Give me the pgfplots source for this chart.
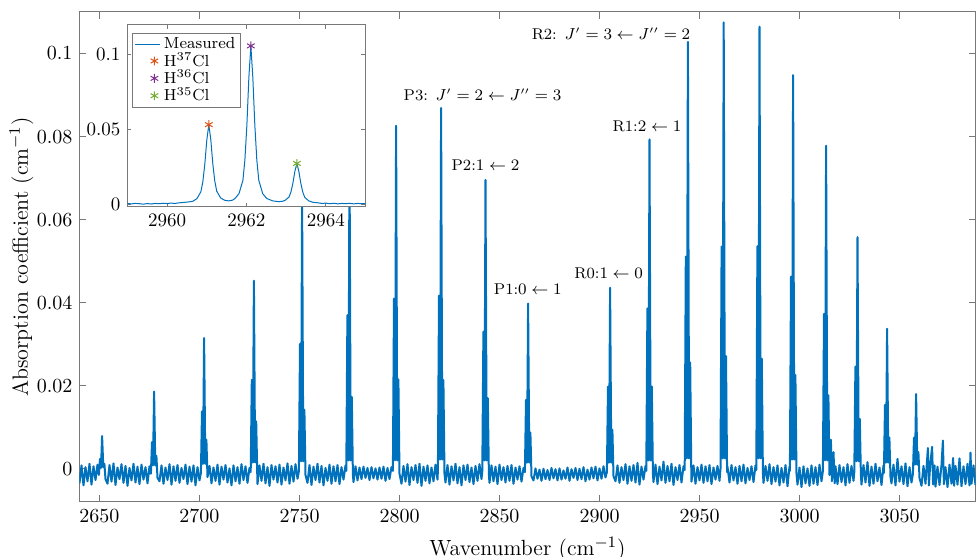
\documentclass[border=0pt]{standalone}
\usepackage{pgfplots}
\pgfplotsset{compat=1.18}
\usepackage{pgfplotstable}
\definecolor{mblue}{RGB}{0,114,189}
\definecolor{morange}{RGB}{217,83,25}
\definecolor{mpurple}{RGB}{126,47,142}
\definecolor{mgreen}{RGB}{119,172,48}
\definecolor{axgray}{RGB}{120,120,120}

\pgfplotstableread{
x y
2640 -0.0035
2641 0.0008
2642 -0.0040
2643 0.0004
2644 -0.0030
2645 0.0012
2646 -0.0038
2647 0.0006
2648 -0.0027
2649 0.0010
2649.7 -0.0015
2650.25 0.0024
2650.75 0.0002
2651.3 0.0079
2651.9 0.0004
2652.45 0.0012
2653.0 -0.0025
2654 -0.0036
2655 0.0009
2656 -0.0031
2657 0.0013
2658 -0.0039
2659 0.0003
2660 -0.0025
2661 0.0011
2662 -0.0034
2663 0.0007
2664 -0.0041
2665 0.0002
2666 -0.0028
2667 0.0012
2668 -0.0033
2669 0.0005
2670 -0.0037
2671 0.0010
2672 -0.0026
2673 0.0004
2674 -0.0035
2675 0.0006
2675.7 -0.0012
2676.25 0.0064
2676.75 0.0008
2677.3 0.0186
2677.9 0.0008
2678.45 0.0031
2679.0 -0.0022
2680 -0.0030
2681 0.0008
2682 -0.0036
2683 0.0003
2684 -0.0027
2685 0.0011
2686 -0.0038
2687 0.0006
2688 -0.0029
2689 0.0009
2690 -0.0034
2691 0.0002
2692 -0.0025
2693 0.0010
2694 -0.0037
2695 0.0005
2696 -0.0031
2697 0.0008
2698 -0.0040
2699 0.0004
2700 -0.0028
2700.7 -0.0010
2701.25 0.0138
2701.75 0.0012
2702.3 0.0315
2702.9 0.0012
2703.45 0.0070
2704.0 -0.0020
2705 0.0007
2706 -0.0035
2707 0.0003
2708 -0.0029
2709 0.0010
2710 -0.0038
2711 0.0005
2712 -0.0026
2713 0.0009
2714 -0.0033
2715 0.0001
2716 -0.0040
2717 0.0008
2718 -0.0030
2719 0.0004
2720 -0.0036
2721 0.0011
2722 -0.0027
2723 0.0006
2724 -0.0034
2725 0.0002
2725.6 -0.0008
2726.15 0.0214
2726.65 0.0015
2727.2 0.0453
2727.8 0.0015
2728.35 0.0114
2728.9 -0.0018
2729 -0.0037
2730 0.0008
2731 -0.0029
2732 0.0012
2733 -0.0035
2734 0.0004
2735 -0.0041
2736 0.0009
2737 -0.0026
2738 0.0006
2739 -0.0033
2740 0.0010
2741 -0.0038
2742 0.0003
2743 -0.0028
2744 0.0013
2745 -0.0036
2746 0.0007
2747 -0.0031
2748 0.0011
2749 -0.0024
2749.7 -0.0006
2750.25 0.0301
2750.75 0.0018
2751.3 0.0650
2751.9 0.0018
2752.45 0.0142
2753.0 -0.0015
2754 -0.0034
2755 0.0009
2756 -0.0039
2757 0.0005
2758 -0.0027
2759 0.0012
2760 -0.0033
2761 0.0007
2762 -0.0040
2763 0.0002
2764 -0.0029
2765 0.0010
2766 -0.0036
2767 0.0006
2768 -0.0030
2769 0.0009
2770 -0.0037
2771 0.0004
2772 -0.0026
2773 0.0008
2773.4 -0.0005
2773.95 0.0370
2774.45 0.0020
2775.0 0.0770
2775.6 0.0020
2776.15 0.0173
2776.7 -0.0015
2777 -0.0032
2778 0.0006
2779 -0.0028
2780 0.0003
2781 -0.0025
2782 0.0005
2783 -0.0022
2784 0.0002
2785 -0.0027
2786 0.0004
2787 -0.0023
2788 0.0001
2789 -0.0026
2790 0.0003
2791 -0.0024
2792 0.0005
2793 -0.0029
2794 0.0002
2795 -0.0025
2796 0.0004
2796.7 -0.0005
2797.25 0.0410
2797.75 0.0020
2798.3 0.0826
2798.9 0.0020
2799.45 0.0215
2800.0 -0.0012
2801 -0.0036
2802 0.0007
2803 -0.0031
2804 0.0011
2805 -0.0039
2806 0.0004
2807 -0.0027
2808 0.0009
2809 -0.0034
2810 0.0012
2811 -0.0041
2812 0.0005
2813 -0.0029
2814 0.0008
2815 -0.0035
2816 0.0003
2817 -0.0030
2818 0.0010
2819 -0.0026
2819.2 -0.0005
2819.75 0.0417
2820.25 0.0022
2820.8 0.0869
2821.4 0.0022
2821.95 0.0214
2822.5 -0.0012
2823 -0.0033
2824 0.0009
2825 -0.0038
2826 0.0006
2827 -0.0028
2828 0.0012
2829 -0.0035
2830 0.0004
2831 -0.0040
2832 0.0008
2833 -0.0027
2834 0.0010
2835 -0.0032
2836 0.0003
2837 -0.0037
2838 0.0007
2839 -0.0029
2840 0.0011
2841 -0.0025
2841.4 -0.0005
2841.95 0.0330
2842.45 0.0020
2843.0 0.0696
2843.6 0.0020
2844.15 0.0170
2844.7 -0.0015
2845 -0.0034
2846 0.0008
2847 -0.0030
2848 0.0005
2849 -0.0037
2850 0.0010
2851 -0.0027
2852 0.0004
2853 -0.0033
2854 0.0007
2855 -0.0029
2856 0.0009
2857 -0.0036
2858 0.0003
2859 -0.0026
2860 0.0006
2861 -0.0031
2862 0.0002
2862.7 -0.0008
2863.25 0.0166
2863.75 0.0015
2864.3 0.0398
2864.9 0.0015
2865.45 0.0087
2866.0 -0.0018
2867 -0.0028
2868 0.0001
2869 -0.0024
2870 -0.0002
2871 -0.0029
2872 0.0000
2873 -0.0025
2874 -0.0003
2875 -0.0027
2876 0.0002
2877 -0.0023
2878 -0.0001
2879 -0.0028
2880 0.0001
2881 -0.0026
2882 -0.0004
2883 -0.0024
2884 0.0003
2885 -0.0029
2886 -0.0001
2887 -0.0022
2888 0.0002
2889 -0.0027
2890 0.0000
2891 -0.0025
2892 0.0004
2893 -0.0030
2894 -0.0002
2895 -0.0026
2896 0.0003
2897 -0.0023
2898 0.0005
2899 -0.0028
2900 0.0001
2901 -0.0024
2902 0.0006
2903 -0.0021
2903.7 -0.0008
2904.25 0.0198
2904.75 0.0015
2905.3 0.0436
2905.9 0.0015
2906.45 0.0094
2907.0 -0.0018
2908 -0.0030
2909 0.0008
2910 -0.0034
2911 0.0004
2912 -0.0027
2913 0.0011
2914 -0.0036
2915 0.0006
2916 -0.0029
2917 0.0009
2918 -0.0033
2919 0.0014
2920 -0.0038
2921 0.0005
2922 -0.0026
2923 0.0007
2923.4 -0.0005
2923.95 0.0386
2924.45 0.0020
2925.0 0.0793
2925.6 0.0020
2926.15 0.0198
2926.7 -0.0012
2927 -0.0032
2928 0.0010
2929 -0.0037
2930 0.0005
2931 -0.0028
2932 0.0017
2933 -0.0034
2934 0.0007
2935 -0.0030
2936 0.0012
2937 -0.0039
2938 0.0004
2939 -0.0027
2940 0.0009
2941 -0.0033
2942 0.0006
2942.6 -0.0003
2943.15 0.0511
2943.65 0.0025
2944.2 0.1028
2944.8 0.0025
2945.35 0.0256
2945.9 -0.0010
2946 -0.0031
2947 0.0008
2948 -0.0036
2949 0.0004
2950 -0.0028
2951 0.0010
2952 -0.0034
2953 0.0006
2954 -0.0030
2955 0.0009
2956 -0.0037
2957 0.0003
2958 -0.0026
2959 0.0007
2960 -0.0029
2960.5 0.0000
2961.05 0.0535
2961.55 0.0025
2962.1 0.1075
2962.7 0.0025
2963.25 0.0271
2963.8 -0.0008
2964 0.0005
2965 -0.0033
2966 0.0009
2967 -0.0028
2968 0.0004
2969 -0.0036
2970 0.0007
2971 -0.0030
2972 0.0010
2973 -0.0035
2974 0.0002
2975 -0.0027
2976 0.0006
2977 -0.0032
2978 0.0008
2978.4 -0.0003
2978.95 0.0536
2979.45 0.0025
2980.0 0.1065
2980.6 0.0025
2981.15 0.0265
2981.7 -0.0010
2982 -0.0034
2983 0.0007
2984 -0.0029
2985 0.0011
2986 -0.0037
2987 0.0004
2988 -0.0031
2989 0.0008
2990 -0.0040
2991 0.0002
2992 -0.0033
2993 0.0009
2994 -0.0042
2995 0.0005
2995.2 -0.0005
2995.75 0.0463
2996.25 0.0022
2996.8 0.0948
2997.4 0.0022
2997.95 0.0226
2998.5 -0.0012
2999 -0.0038
3000 0.0003
3001 -0.0044
3002 0.0006
3003 -0.0035
3004 0.0001
3005 -0.0041
3006 0.0008
3007 -0.0036
3008 0.0004
3009 -0.0039
3010 0.0010
3011 -0.0030
3011.7 -0.0005
3012.25 0.0373
3012.75 0.0020
3013.3 0.0778
3013.9 0.0020
3014.45 0.0177
3015.0 -0.0015
3015.7 0.0070
3016.2 -0.0030
3017.0 0.0040
3017.6 -0.0035
3018 0.0006
3019 -0.0037
3020 0.0009
3021 -0.0032
3022 0.0004
3023 -0.0040
3024 0.0011
3025 -0.0034
3026 0.0007
3027 -0.0029
3027.4 -0.0008
3027.95 0.0246
3028.45 0.0018
3029.0 0.0558
3029.6 0.0018
3030.15 0.0120
3030.7 -0.0015
3031 -0.0038
3032 0.0009
3033 -0.0033
3034 0.0016
3035 -0.0041
3036 0.0005
3037 -0.0036
3038 0.0012
3039 -0.0030
3040 0.0003
3041 -0.0039
3042 0.0008
3042.2 -0.0010
3042.75 0.0154
3043.25 0.0015
3043.8 0.0337
3044.4 0.0015
3044.95 0.0075
3045.5 -0.0020
3046 -0.0035
3047 0.0010
3048 -0.0040
3049 0.0024
3050 -0.0031
3051 0.0006
3052 -0.0037
3053 0.0013
3054 -0.0042
3055 0.0004
3056 -0.0033
3056.7 -0.0012
3057.25 0.0075
3057.75 0.0010
3058.3 0.0180
3058.9 0.0010
3059.45 0.0040
3060.0 -0.0022
3061 -0.0041
3062 0.0007
3063 -0.0036
3064.2 0.0050
3064.7 -0.0040
3065.3 0.0006
3066.3 0.0053
3066.8 -0.0038
3067.5 0.0008
3068 -0.0043
3069 0.0005
3070 -0.0039
3071 0.0009
3071.7 0.0068
3072.2 -0.0037
3073 0.0004
3074 -0.0044
3075 0.0010
3076 -0.0036
3076.8 0.0026
3077.3 -0.0041
3078 0.0007
3079 -0.0038
3080 0.0025
3081 -0.0042
3082 0.0006
3083 -0.0037
3084 0.0012
3085 -0.0040
3085.5 0.0039
3086 -0.0036
3087 0.0008
3088 -0.0039
}\maindata

\pgfplotstableread{
x y
2959.0 0.0003
2959.1 0.0001
2959.2 0.0004
2959.3 0.0002
2959.4 -0.0001
2959.5 0.0003
2959.6 0.0000
2959.7 0.0004
2959.8 0.0002
2959.9 0.0005
2960.0 0.0003
2960.1 0.0006
2960.2 0.0004
2960.3 0.0008
2960.4 0.0010
2960.5 0.0013
2960.6 0.0016
2960.65 0.0019
2960.75 0.0036
2960.85 0.0082
2960.9 0.0150
2960.95 0.0270
2961.0 0.0430
2961.05 0.0532
2961.1 0.0432
2961.15 0.0272
2961.2 0.0155
2961.25 0.0086
2961.35 0.0040
2961.45 0.0025
2961.55 0.0021
2961.65 0.0026
2961.71 0.0037
2961.81 0.0069
2961.91 0.0159
2961.96 0.0297
2962.01 0.0530
2962.06 0.0848
2962.11 0.1060
2962.16 0.0848
2962.21 0.0530
2962.26 0.0297
2962.31 0.0159
2962.41 0.0069
2962.51 0.0037
2962.66 0.0021
2962.8 0.0016
2962.9 0.0018
2962.97 0.0024
2963.07 0.0046
2963.12 0.0080
2963.17 0.0139
2963.22 0.0219
2963.27 0.0272
2963.32 0.0219
2963.37 0.0138
2963.42 0.0079
2963.47 0.0044
2963.57 0.0021
2963.67 0.0012
2963.8 0.0008
2963.9 0.0004
2964.0 0.0006
2964.1 0.0002
2964.2 0.0005
2964.3 0.0001
2964.4 0.0004
2964.5 0.0002
2964.6 0.0005
2964.7 0.0001
2964.8 0.0004
2964.9 0.0002
2965.0 0.0003
}\insetdata

\begin{document}
\begin{tikzpicture}
\begin{axis}[
  at={(0,0)}, anchor=south west,
  scale only axis, width=448pt, height=245pt,
  xmin=2640, xmax=3088, ymin=-0.008, ymax=0.11,
  xtick={2650,2700,2750,2800,2850,2900,2950,3000,3050},
  xticklabels={2650,2700,2750,2800,2850,2900,2950,3000,3050},
  ytick={0,0.02,0.04,0.06,0.08,0.1},
  yticklabels={0,0.02,0.04,0.06,0.08,0.1},
  tick label style={font=\fontsize{10}{12}\selectfont, black},
  label style={font=\fontsize{11}{13}\selectfont, black},
  xlabel={Wavenumber (cm$^{-1}$)},
  ylabel={Absorption coefficient (cm$^{-1}$)},
  y label style={at={(axis description cs:-0.0647,0.5)}, anchor=center, rotate=0},
  axis line style={axgray, line width=0.5pt},
  tick style={axgray, line width=0.5pt},
  major tick length=3.5pt,
  tick align=inside,
]
\addplot[mblue, line width=1pt, line join=round] table {\maindata};
\node[font=\fontsize{7.8}{10}\selectfont] at (axis cs:2905.75,0.1048) {R2:\enspace$J'=3\leftarrow J''=2$};
\node[font=\fontsize{7.8}{10}\selectfont] at (axis cs:2841.5,0.0901) {P3:\enspace$J'=2\leftarrow J''=3$};
\node[font=\fontsize{7.8}{10}\selectfont] at (axis cs:2923.75,0.0825) {R1:$2\leftarrow 1$};
\node[font=\fontsize{7.8}{10}\selectfont] at (axis cs:2843,0.0731) {P2:$1\leftarrow 2$};
\node[font=\fontsize{7.8}{10}\selectfont] at (axis cs:2904.6,0.0470) {R0:$1\leftarrow 0$};
\node[font=\fontsize{7.8}{10}\selectfont] at (axis cs:2864.15,0.0433) {P1:$0\leftarrow 1$};
\end{axis}

\begin{axis}[
  at={(24pt,147.5pt)}, anchor=south west,
  scale only axis, width=119pt, height=91pt,
  xmin=2959, xmax=2965, ymin=-0.002, ymax=0.12,
  xtick={2960,2962,2964}, xticklabels={2960,2962,2964},
  ytick={0,0.05,0.1}, yticklabels={0,0.05,0.1},
  axis background/.style={fill=white},
  tick label style={font=\fontsize{9.5}{11}\selectfont, black},
  axis line style={axgray, line width=0.5pt},
  tick style={axgray, line width=0.5pt},
  major tick length=2pt,
  tick align=inside,
  legend style={at={(0.02,0.955)}, anchor=north west,
    font=\fontsize{8}{9}\selectfont, draw=axgray, line width=0.5pt,
    inner xsep=1pt, inner ysep=0.5pt, row sep=-2.5pt,
    nodes={inner sep=1.5pt}},
  legend cell align=left,
]
\addplot[mblue, line width=0.5pt, line join=round,
  legend image code/.code={\draw[mblue, line width=0.6pt] (-1pt,0pt) -- (11.5pt,0pt);}]
  table {\insetdata};
\addlegendentry{Measured}
\addplot[only marks, mark=asterisk, mark size=2.2pt, morange, line width=0.5pt]
  coordinates {(2961.05,0.0532)};
\addlegendentry{H$^{37}$Cl}
\addplot[only marks, mark=asterisk, mark size=2.2pt, mpurple, line width=0.5pt]
  coordinates {(2962.11,0.1060)};
\addlegendentry{H$^{36}$Cl}
\addplot[only marks, mark=asterisk, mark size=2.2pt, mgreen, line width=0.5pt]
  coordinates {(2963.27,0.0272)};
\addlegendentry{H$^{35}$Cl}
\end{axis}
\pgfresetboundingbox
\path[use as bounding box] (-39.75pt,-27.5pt) rectangle (448.25pt,251pt);
\end{tikzpicture}
\end{document}
